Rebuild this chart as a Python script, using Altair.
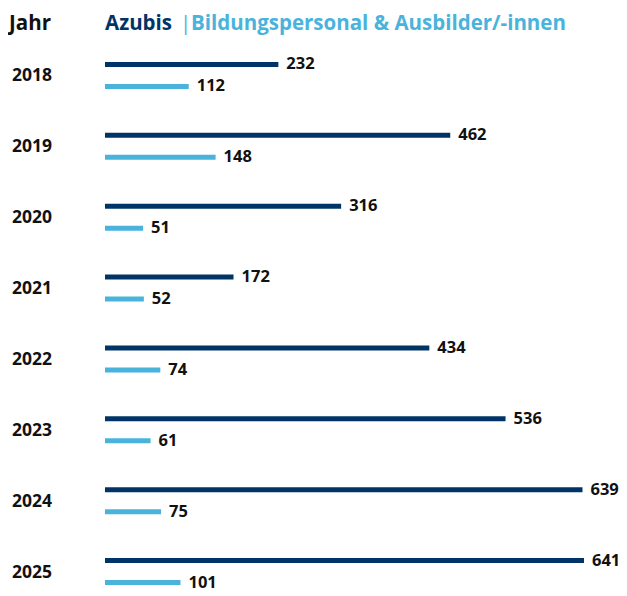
import altair as alt
import pandas as pd

years = ["2018", "2019", "2020", "2021", "2022", "2023", "2024", "2025"]
azubis = [232, 462, 316, 172, 434, 536, 639, 641]
personal = [112, 148, 51, 52, 74, 61, 75, 101]
series = ["Azubis", "Bildungspersonal & Ausbilder/-innen"]
colors = ["#003466", "#49b3dc"]

rows = []
for y, a, p in zip(years, azubis, personal):
    rows.append({"Jahr": y, "Serie": series[0], "Wert": a})
    rows.append({"Jahr": y, "Serie": series[1], "Wert": p})
df = pd.DataFrame(rows)

FONT = "Open Sans"

yscale = alt.Scale(domain=years, range=[1, 568], paddingInner=0, paddingOuter=0)
offscale = alt.Scale(domain=series, paddingInner=0, paddingOuter=0.61)
xscale = alt.Scale(domain=[0, 641], range=[0, 479], nice=False, zero=True)
cscale = alt.Scale(domain=series, range=colors)

base = alt.Chart(df).encode(
    y=alt.Y("Jahr:N", scale=yscale, axis=None),
    yOffset=alt.YOffset("Serie:N", scale=offscale),
)

bars = base.mark_bar(height=5).encode(
    x=alt.X("Wert:Q", scale=xscale, axis=None),
    color=alt.Color("Serie:N", scale=cscale, legend=None),
)

labels = base.mark_text(align="left", baseline="middle", dx=8, fontSize=16.5,
                        fontWeight="bold", font=FONT, color="#111111").encode(
    x=alt.X("Wert:Q", scale=xscale, axis=None),
    text=alt.Text("Wert:Q"),
)

year_df = pd.DataFrame({"Jahr": years})
year_labels = alt.Chart(year_df).mark_text(
    align="left", baseline="middle", fontSize=17.5, fontWeight="bold", font=FONT,
    color="#111111", dx=-93, dy=1
).encode(
    y=alt.Y("Jahr:N", scale=yscale, axis=None),
    x=alt.value(0),
    text="Jahr:N",
)

HY = -9
HS = 20.5
head_jahr = alt.Chart(pd.DataFrame({"t": ["Jahr"]})).mark_text(
    align="left", baseline="alphabetic", fontSize=HS, fontWeight="bold",
    font=FONT, color="#111111"
).encode(x=alt.value(-96), y=alt.value(HY), text="t:N")

head_a = alt.Chart(pd.DataFrame({"t": ["Azubis"]})).mark_text(
    align="left", baseline="alphabetic", fontSize=HS, fontWeight="bold",
    font=FONT, color=colors[0]
).encode(x=alt.value(0), y=alt.value(HY), text="t:N")

head_sep = alt.Chart(pd.DataFrame({"t": ["|"]})).mark_text(
    align="left", baseline="alphabetic", fontSize=HS, fontWeight="normal",
    font=FONT, color=colors[1]
).encode(x=alt.value(75), y=alt.value(HY), text="t:N")

head_b = alt.Chart(pd.DataFrame({"t": ["Bildungspersonal & Ausbilder/-innen"]})).mark_text(
    align="left", baseline="alphabetic", fontSize=HS, fontWeight="bold",
    font=FONT, color=colors[1]
).encode(x=alt.value(86), y=alt.value(HY), text="t:N")

chart = alt.layer(bars, labels, year_labels, head_jahr, head_a, head_sep, head_b).properties(
    width=514, height=553,
    padding={"left": 97, "top": 31, "right": 0, "bottom": 0},
    autosize=alt.AutoSizeParams(type="none"),
).configure_view(stroke=None)

chart.save("out.html", embed_options={"renderer": "svg", "actions": False})
